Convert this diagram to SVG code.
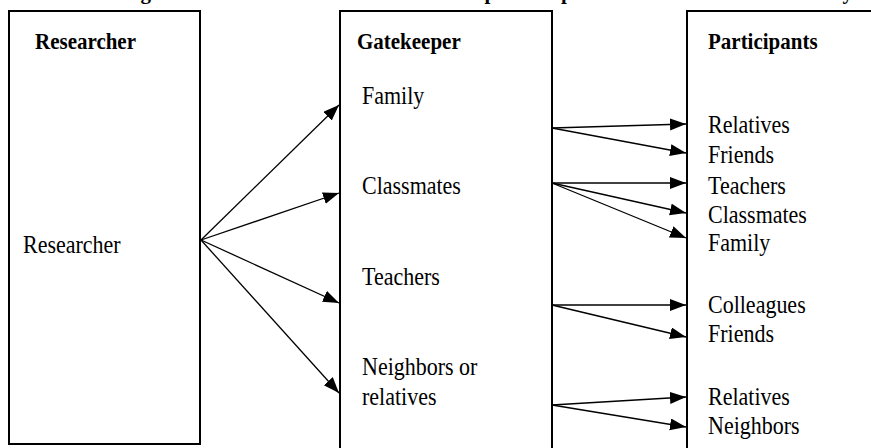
<svg xmlns="http://www.w3.org/2000/svg" width="871" height="448" viewBox="0 0 871 448">
<defs>
<style>
.box{fill:#fff;stroke:#000;stroke-width:2}
.h{font-family:"Liberation Serif","Times New Roman",serif;font-weight:bold;font-size:21px;fill:#000}
.t{font-family:"Liberation Serif","Times New Roman",serif;font-size:22px;fill:#000}
.c{stroke:#000;stroke-width:1.3;fill:none;marker-end:url(#ah)}
</style>
<marker id="ah" markerUnits="userSpaceOnUse" markerWidth="17" markerHeight="13" refX="16" refY="6" orient="auto">
<path d="M0,0 L16,6 L0,12 z" fill="#000"/>
</marker>
</defs>
<rect width="871" height="448" fill="#fff"/>
<text class="h" x="117" y="-1" textLength="736" lengthAdjust="spacing">Figure 1: Access to the research participants in the current study</text>
<g id="researcher">
<rect class="box" x="9" y="11" width="191" height="433"/>
<text class="h" transform="translate(35,49) scale(1,1.12)">Researcher</text>
<text class="t" transform="translate(23,253) scale(1,1.1)">Researcher</text>
</g>
<g id="gatekeeper">
<rect class="box" x="340" y="11" width="212" height="445"/>
<text class="h" transform="translate(357,49) scale(1,1.12)">Gatekeeper</text>
<text class="t" transform="translate(362,104) scale(1,1.1)">Family</text>
<text class="t" transform="translate(362,194) scale(1,1.1)">Classmates</text>
<text class="t" transform="translate(362,285) scale(1,1.1)">Teachers</text>
<text class="t" transform="translate(362,375) scale(1,1.1)">Neighbors or</text>
<text class="t" transform="translate(362,405) scale(1,1.1)">relatives</text>
</g>
<g id="participants">
<rect class="box" x="687" y="11" width="200" height="445"/>
<text class="h" transform="translate(708,49) scale(1,1.12)">Participants</text>
<text class="t" transform="translate(708,133) scale(1,1.1)">Relatives</text>
<text class="t" transform="translate(708,163) scale(1,1.1)">Friends</text>
<text class="t" transform="translate(708,194) scale(1,1.1)">Teachers</text>
<text class="t" transform="translate(708,223) scale(1,1.1)">Classmates</text>
<text class="t" transform="translate(708,251) scale(1,1.1)">Family</text>
<text class="t" transform="translate(708,313) scale(1,1.1)">Colleagues</text>
<text class="t" transform="translate(708,342) scale(1,1.1)">Friends</text>
<text class="t" transform="translate(708,405) scale(1,1.1)">Relatives</text>
<text class="t" transform="translate(708,434) scale(1,1.1)">Neighbors</text>
</g>
<g id="connectors">
<line class="c" x1="201" y1="240" x2="339" y2="105"/>
<line class="c" x1="201" y1="240" x2="339" y2="193"/>
<line class="c" x1="201" y1="240" x2="339" y2="303"/>
<line class="c" x1="201" y1="240" x2="339" y2="393"/>
<line class="c" x1="552" y1="128" x2="686" y2="124"/>
<line class="c" x1="552" y1="128" x2="686" y2="153"/>
<line class="c" x1="552" y1="183" x2="686" y2="183"/>
<line class="c" x1="552" y1="183" x2="686" y2="213"/>
<line class="c" x1="552" y1="183" x2="686" y2="238"/>
<line class="c" x1="552" y1="305" x2="686" y2="305"/>
<line class="c" x1="552" y1="305" x2="686" y2="337"/>
<line class="c" x1="552" y1="405" x2="686" y2="397"/>
<line class="c" x1="552" y1="405" x2="686" y2="427"/>
</g>
</svg>
